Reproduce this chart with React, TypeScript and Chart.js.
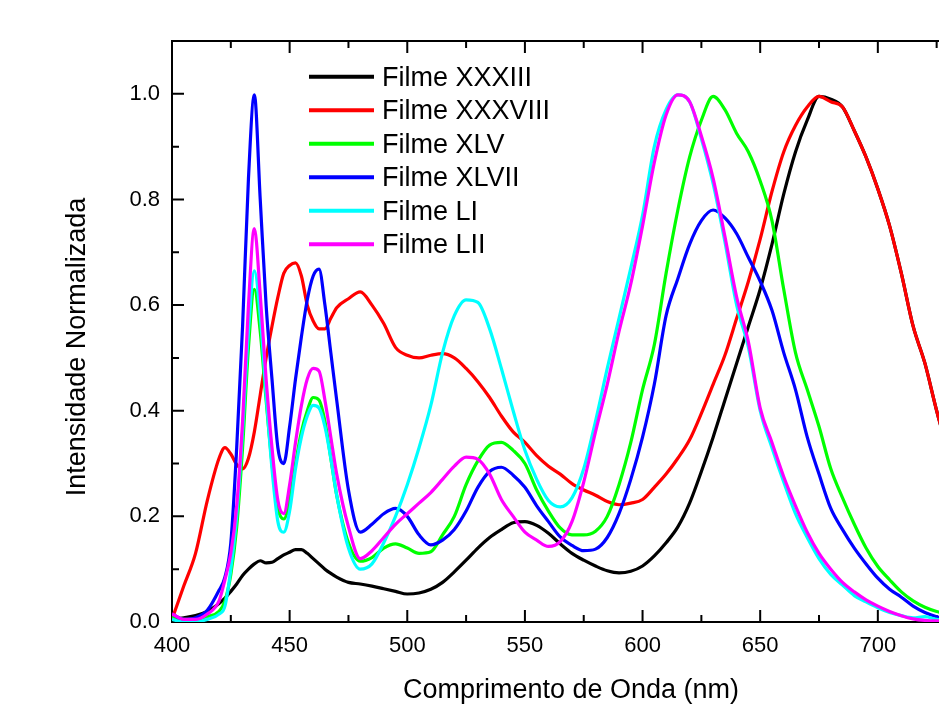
import { useEffect, useRef } from 'react';
import { Chart, registerables } from 'chart.js';

Chart.register(...registerables);

// ---- data ----
const wavelengths = [
  400, 405, 410, 415, 420,
  422.5, 425, 427.5, 430, 432.5, 435, 437.5, 440, 442.5, 445, 447.5, 450, 452.5, 455, 457.5, 460, 462.5, 465, 467.5, 470,
  475, 480, 485, 490, 495, 500, 505, 510, 515, 520, 525, 530, 535, 540, 545, 550, 555, 560, 565, 570, 575, 580, 585, 590, 595,
  600, 605, 610, 615, 620, 625, 630, 635, 640, 645, 650, 655, 660, 665, 670, 675, 680, 685, 690, 695, 700, 705, 710, 715, 720, 725, 730,
];

const filmeXXXIII = [
  0.005, 0.008, 0.012, 0.02, 0.035,
  0.045, 0.058, 0.072, 0.088, 0.1, 0.11, 0.116, 0.112, 0.113, 0.12, 0.127, 0.132, 0.137, 0.137, 0.13, 0.12, 0.11, 0.1, 0.092, 0.085,
  0.075, 0.072, 0.068, 0.063, 0.058, 0.053, 0.055, 0.062, 0.075, 0.095, 0.117, 0.14, 0.16, 0.175, 0.188, 0.19, 0.183, 0.168, 0.148, 0.13, 0.117, 0.106, 0.097, 0.093, 0.096,
  0.106, 0.125, 0.15, 0.18, 0.225, 0.285, 0.35, 0.42, 0.49, 0.56, 0.63, 0.715, 0.81, 0.89, 0.95, 0.995, 0.99, 0.975, 0.93, 0.88, 0.82, 0.75, 0.66, 0.56, 0.49, 0.4, 0.32,
];

const filmeXXXVIII = [
  0.005, 0.068, 0.13, 0.23, 0.31,
  0.33, 0.318, 0.298, 0.29, 0.31, 0.36, 0.43, 0.5, 0.56, 0.615, 0.66, 0.675, 0.68, 0.655, 0.6, 0.57, 0.555, 0.555, 0.575, 0.595,
  0.612, 0.625, 0.6, 0.565, 0.52, 0.505, 0.5, 0.505, 0.508, 0.5, 0.48, 0.455, 0.425, 0.39, 0.36, 0.34, 0.315, 0.295, 0.28, 0.262, 0.25, 0.24, 0.228, 0.222, 0.225,
  0.232, 0.255, 0.28, 0.31, 0.345, 0.395, 0.45, 0.505, 0.575, 0.645, 0.725, 0.815, 0.89, 0.94, 0.975, 0.995, 0.985, 0.975, 0.93, 0.88, 0.82, 0.75, 0.66, 0.56, 0.49, 0.4, 0.32,
];

const filmeXLV = [
  0.01, 0.005, 0.005, 0.01, 0.02,
  0.04, 0.09, 0.18, 0.33, 0.52, 0.63, 0.55, 0.42, 0.3, 0.215, 0.195, 0.23, 0.3, 0.36, 0.4, 0.425, 0.42, 0.38, 0.31, 0.24,
  0.15, 0.115, 0.122, 0.14, 0.148, 0.14, 0.13, 0.133, 0.165, 0.2, 0.26, 0.305, 0.335, 0.34, 0.325, 0.3, 0.25, 0.21, 0.178, 0.165, 0.165, 0.172, 0.2, 0.26, 0.34,
  0.44, 0.525, 0.66, 0.78, 0.88, 0.95, 0.995, 0.97, 0.925, 0.89, 0.835, 0.76, 0.63, 0.51, 0.44, 0.37, 0.29, 0.235, 0.185, 0.14, 0.105, 0.08, 0.057, 0.04, 0.028, 0.02, 0.015,
];

const filmeXLVII = [
  0.015, 0.005, 0.008, 0.022, 0.06,
  0.085, 0.15, 0.33, 0.56, 0.84, 0.998, 0.8, 0.6, 0.46, 0.33, 0.3, 0.37, 0.46, 0.54, 0.61, 0.655, 0.668, 0.6, 0.51, 0.42,
  0.25, 0.17, 0.185, 0.205, 0.215, 0.2, 0.165, 0.146, 0.155, 0.175, 0.21, 0.255, 0.285, 0.293, 0.278, 0.255, 0.22, 0.19, 0.161, 0.145, 0.135, 0.138, 0.16, 0.205, 0.27,
  0.35, 0.45, 0.58, 0.65, 0.715, 0.76, 0.78, 0.765, 0.735, 0.69, 0.645, 0.59, 0.51, 0.44, 0.35, 0.28, 0.215, 0.175, 0.14, 0.11, 0.083, 0.062, 0.047, 0.03, 0.018, 0.01, 0.005,
];

const filmeLI = [
  0.005, 0.0, 0.0, 0.005, 0.015,
  0.03, 0.1, 0.2, 0.36, 0.55, 0.665, 0.58, 0.43, 0.29, 0.19, 0.17, 0.21, 0.29, 0.35, 0.39, 0.41, 0.405, 0.37, 0.31, 0.24,
  0.14, 0.1, 0.11, 0.15, 0.2, 0.26, 0.33, 0.41, 0.51, 0.58, 0.61, 0.605, 0.555, 0.48, 0.4, 0.325, 0.27, 0.23, 0.218, 0.235, 0.29, 0.38, 0.48, 0.575, 0.67,
  0.77, 0.9, 0.97, 0.998, 0.985, 0.915, 0.83, 0.72, 0.6, 0.52, 0.4, 0.33, 0.265, 0.205, 0.16, 0.12, 0.09, 0.07, 0.05, 0.038, 0.027, 0.018, 0.012, 0.008, 0.01, 0.005, 0.002,
];

const filmeLII = [
  0.015, 0.005, 0.005, 0.015, 0.04,
  0.08, 0.13, 0.22, 0.38, 0.6, 0.745, 0.62, 0.46, 0.33, 0.23, 0.205, 0.26, 0.34, 0.41, 0.46, 0.48, 0.475, 0.42, 0.35, 0.28,
  0.18, 0.12, 0.135, 0.16, 0.185, 0.205, 0.225, 0.245, 0.27, 0.295, 0.312, 0.308, 0.28, 0.232, 0.2, 0.17, 0.155, 0.143, 0.152, 0.19, 0.265, 0.36, 0.45, 0.55, 0.64,
  0.75, 0.87, 0.96, 0.998, 0.985, 0.92, 0.84, 0.73, 0.615, 0.53, 0.405, 0.34, 0.275, 0.22, 0.17, 0.13, 0.1, 0.075, 0.057, 0.042, 0.03, 0.02, 0.012, 0.006, 0.003, 0.002, 0.002,
];

const seriesNames = ['Filme XXXIII', 'Filme XXXVIII', 'Filme XLV', 'Filme XLVII', 'Filme LI', 'Filme LII'];
const seriesValues = [filmeXXXIII, filmeXXXVIII, filmeXLV, filmeXLVII, filmeLI, filmeLII];
const seriesColors = ['#000000', '#ff0000', '#00ff00', '#0000ff', '#00ffff', '#ff00ff'];

const xMajorTicks = [400, 450, 500, 550, 600, 650, 700];
const xMinorTicks = [425, 475, 525, 575, 625, 675, 725];
const yMajorTicks = [0, 0.2, 0.4, 0.6, 0.8, 1.0];
const yMinorTicks = [0.1, 0.3, 0.5, 0.7, 0.9];

const xTitle = 'Comprimento de Onda (nm)';
const yTitle = 'Intensidade Normalizada';

const FONT = '"Liberation Sans", Arial, Helvetica, sans-serif';

const framePlugin = {
  id: 'frameTicks',
  beforeDatasetsDraw(chart: any) {
    const { ctx, chartArea } = chart;
    const xs = chart.scales.x;
    const ys = chart.scales.y;
    const L = chartArea.left;
    const T = chartArea.top;
    const B = chartArea.bottom;
    const R = chart.width;
    ctx.save();
    ctx.strokeStyle = '#000';
    ctx.lineWidth = 2;
    ctx.beginPath();
    ctx.moveTo(R, T);
    ctx.lineTo(L, T);
    ctx.lineTo(L, B);
    ctx.lineTo(R, B);
    ctx.stroke();
    ctx.beginPath();
    const tickX = (v: number, len: number) => {
      const px = xs.getPixelForValue(v);
      ctx.moveTo(px, B);
      ctx.lineTo(px, B - len);
      ctx.moveTo(px, T);
      ctx.lineTo(px, T + len);
    };
    xMajorTicks.forEach((v) => tickX(v, 12));
    xMinorTicks.forEach((v) => tickX(v, 7));
    const tickY = (v: number, len: number) => {
      const py = ys.getPixelForValue(v);
      ctx.moveTo(L, py);
      ctx.lineTo(L + len, py);
    };
    yMajorTicks.forEach((v) => tickY(v, 12));
    yMinorTicks.forEach((v) => tickY(v, 7));
    ctx.stroke();
    ctx.restore();
  },
  afterDraw(chart: any) {
    const { ctx } = chart;
    ctx.save();
    ctx.fillStyle = '#000';
    ctx.font = `27px ${FONT}`;
    ctx.textAlign = 'center';
    ctx.textBaseline = 'alphabetic';
    ctx.fillText(xTitle, 571, 698);
    ctx.save();
    ctx.translate(85, 347);
    ctx.rotate(-Math.PI / 2);
    ctx.fillText(yTitle, 0, 0);
    ctx.restore();
    // legend
    ctx.textAlign = 'left';
    seriesNames.forEach((name, i) => {
      const y = 76.7 + 33.5 * i;
      ctx.strokeStyle = seriesColors[i];
      ctx.lineWidth = 4;
      ctx.beginPath();
      ctx.moveTo(309, y);
      ctx.lineTo(374, y);
      ctx.stroke();
      ctx.fillText(name, 382, y + 9);
    });
    ctx.restore();
  },
};

export default function App() {
  const ref = useRef<HTMLCanvasElement | null>(null);
  useEffect(() => {
    if (!ref.current) return;
    const chart = new Chart(ref.current, {
      type: 'line',
      data: {
        datasets: seriesValues.map((vals, i) => ({
          label: seriesNames[i],
          data: wavelengths.map((w, j) => ({ x: w, y: vals[j] })),
          borderColor: seriesColors[i],
          backgroundColor: seriesColors[i],
          borderWidth: 3.2,
          pointRadius: 0,
          cubicInterpolationMode: 'monotone' as const,
          order: seriesNames.length - i,
        })),
      },
      options: {
        responsive: false,
        animation: false,
        layout: { padding: { top: 41, right: 0, bottom: 0, left: 0 } },
        plugins: { legend: { display: false }, tooltip: { enabled: false } },
        scales: {
          x: {
            type: 'linear',
            min: 400,
            max: 726,
            grid: { display: false },
            border: { display: false },
            afterFit: (s: any) => { s.height = 83; },
            ticks: {
              stepSize: 50,
              includeBounds: false,
              autoSkip: false,
              maxRotation: 0,
              padding: 3,
              color: '#000',
              font: { family: FONT, size: 22 },
              callback: (v: any) => String(v),
            },
          },
          y: {
            type: 'linear',
            min: 0,
            max: 1.1,
            grid: { display: false },
            border: { display: false },
            afterFit: (s: any) => { s.width = 172; },
            ticks: {
              stepSize: 0.2,
              includeBounds: false,
              padding: 4,
              color: '#000',
              font: { family: FONT, size: 22 },
              callback: (v: any) => Number(v).toFixed(1),
            },
          },
        },
      },
      plugins: [framePlugin],
    });
    return () => chart.destroy();
  }, []);
  return (
    <div style={{ position: 'absolute', left: 0, top: 0, width: 939, height: 705, background: '#fff' }}>
      <canvas ref={ref} width={939} height={705} style={{ display: 'block' }} />
    </div>
  );
}
